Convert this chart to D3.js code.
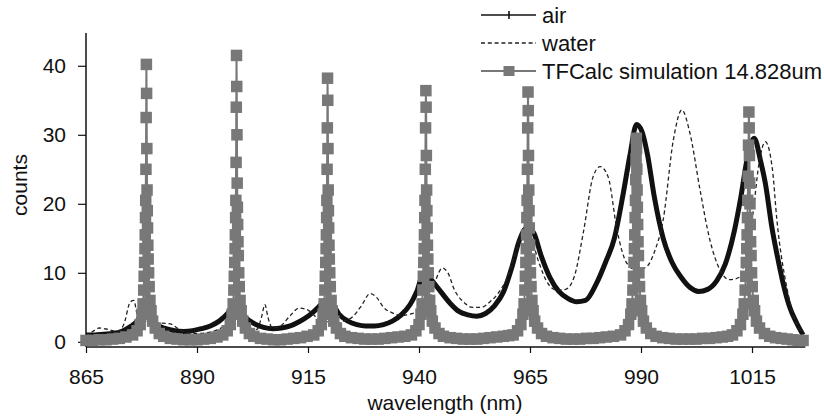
<!DOCTYPE html>
<html><head><meta charset="utf-8">
<script src="https://cdn.jsdelivr.net/npm/d3@7"></script>
<style>body{margin:0;background:#fff}svg{display:block}text{font-family:"Liberation Sans",Arial,sans-serif;fill:#111}</style>
</head><body>
<svg id="c" width="824" height="419"></svg>
<script>
const xTicks = [865, 890, 915, 940, 965, 990, 1015];
const yTicks = [0, 10, 20, 30, 40];
const seriesNames = ["air", "water", "TFCalc simulation 14.828um"];
const xLabel = "wavelength (nm)";
const yLabel = "counts";

const airData = [[865,1.0],[867,1.0],[869,1.1],[871,1.2],[873,1.5],[875,2.2],[876.5,3.0],[877.5,4.0],[878.5,4.5],[879.5,3.8],[881,2.5],[883,1.9],[885,1.6],[887,1.5],[889,1.6],[891,1.9],[893,2.3],[895,3.0],[897,4.2],[898.5,5.5],[899.5,5.0],[901,3.5],[903,2.6],[905,2.1],[907,1.9],[909,2.0],[911,2.3],[913,2.9],[915,3.7],[917,4.8],[919,6.0],[920.5,5.5],[922,4.0],[924,3.0],[926,2.5],[928,2.3],[930,2.3],[932,2.5],[934,3.0],[936,3.9],[938,5.4],[939.5,7.3],[941,9.8],[942,9.5],[944,8.0],[947,5.6],[949,4.4],[951,3.9],[953,3.7],[955,4.1],[957,5.2],[959,7.2],[961,11.0],[962.5,14.5],[964.3,16.5],[965.8,15.8],[967.5,12.5],[969.5,9.3],[971.5,7.3],[973.5,6.3],[975.5,5.8],[977.5,6.0],[980,8.5],[982,11.5],[984,15.0],[986,21.5],[987.5,27.0],[989,31.5],[990.2,30.5],[991.5,27.0],[993,21.0],[995,15.0],[997,11.5],[999,9.4],[1001,7.9],[1003,7.3],[1005,7.6],[1007,8.8],[1009,11.3],[1011,16.0],[1012.5,21.0],[1014,26.8],[1015.5,29.5],[1017,26.0],[1018,23.0],[1019.5,16.5],[1021,11.5],[1022,8.5],[1023.5,5.0],[1025,2.8],[1026.5,1.0]];

const waterData = [[865,0.8],[866.5,1.5],[868,2.0],[870,1.8],[872,1.5],[873.5,2.5],[875,5.8],[875.8,6.0],[876.5,4.0],[877.5,3.0],[879,3.0],[880.5,2.5],[882,2.7],[884,2.6],[886,1.8],[888,1.3],[890,1.2],[892,1.3],[894,1.6],[896,2.2],[898,3.0],[900,3.0],[902,2.0],[903.5,1.8],[904.5,3.5],[905.3,5.4],[906,3.5],[907,2.0],[909,2.4],[911,3.8],[913,4.9],[915,4.6],[917,3.5],[919,3.0],[921,2.5],[923,3.0],[925,3.6],[927,5.2],[929,7.0],[930.5,6.4],[932,5.0],[934,4.2],[936,3.8],[938,4.0],[940,4.5],[942,5.5],[943.5,8.5],[945.3,10.7],[946.5,10.0],[948,7.5],[950,5.8],[952,5.0],[954,5.0],[956,5.8],[958,7.2],[960,9.5],[962,13.5],[963.5,16.3],[965,15.5],[967,11.5],[969,8.5],[971,7.5],[973,7.6],[975,9.5],[977,15.8],[979.2,23.9],[980.8,25.4],[982.6,23.9],[984.6,16.2],[986.8,11.4],[989,10.4],[991.3,10.9],[993,13.0],[995,17.7],[997.3,29.3],[999.2,33.6],[1001,30.3],[1003.3,22.0],[1005.5,14.8],[1007.8,10.4],[1010,9.0],[1012.3,9.4],[1013.4,11.9],[1015.2,18.5],[1016.5,25.5],[1018,29.0],[1019.6,25.0],[1020.6,17.7],[1022.8,8.0],[1024.7,3.2],[1026.5,1.2]];

const simData = [
[865,0.2],[866.5,0.2],[868,0.3],[869.5,0.3],[871,0.4],[872.5,0.5],[874,0.7],
[875.5,1.0],[876.5,1.6],[877.2,2.5],[877.6,4],[877.85,5.5],[878.0,7.5],[878.1,9.5],[878.2,11.5],[878.28,13.5],[878.34,15.5],[878.4,18],[878.45,20.5],[878.5,25],[878.55,32.5],[878.6,40.2],
[878.65,36],[878.7,28],[878.75,22],[878.8,19],[878.86,16.5],[878.93,14],[879.0,12],[879.1,10],[879.22,8],[879.4,6],[879.65,4.5],[880.0,3],[880.6,2],[881.5,1.2],[882.5,0.8],
[884,0.5],[885.5,0.4],[887,0.3],[888.5,0.3],[890,0.3],[891.5,0.4],[893,0.5],[894.5,0.7],
[895.8,1.0],[896.8,1.6],[897.5,2.5],[897.9,4],[898.15,5.5],[898.3,7.5],[898.4,9.5],[898.5,11.5],[898.58,13.5],[898.64,15.5],[898.7,18],[898.75,20.5],[898.8,26],[898.85,34],[898.9,41.5],
[898.95,37],[899.0,30],[899.05,23],[899.1,19.5],[899.16,17],[899.23,14.5],[899.3,12.5],[899.4,10],[899.52,8],[899.7,6],[899.95,4.5],[900.3,3],[900.9,2],[901.8,1.2],[902.8,0.8],
[904.3,0.5],[905.8,0.4],[907.3,0.3],[908.8,0.3],[910.3,0.4],[911.8,0.5],[913.3,0.6],[914.8,0.8],
[916.3,1.0],[917.3,1.6],[918.0,2.5],[918.4,4],[918.65,5.5],[918.8,7.5],[918.9,9.5],[919.0,11.5],[919.08,13.5],[919.14,15.5],[919.2,18],[919.25,20.5],[919.3,25],[919.35,31],[919.4,38.2],
[919.45,35],[919.5,28],[919.55,22],[919.6,19],[919.66,16.5],[919.73,14],[919.8,12],[919.9,10],[920.02,8],[920.2,6],[920.45,4.5],[920.8,3],[921.4,2],[922.3,1.2],[923.3,0.8],
[924.8,0.6],[926.3,0.5],[927.8,0.4],[929.3,0.4],[930.8,0.4],[932.3,0.5],[933.8,0.6],[935.3,0.7],[936.8,0.8],
[938.3,1.0],[939.3,1.6],[940.0,2.5],[940.45,4],[940.7,5.5],[940.87,7.5],[940.98,9.5],[941.08,11.5],[941.16,13.5],[941.23,15.5],[941.29,18],[941.35,20.5],[941.42,25],[941.48,31],[941.55,36.4],
[941.6,34],[941.66,27],[941.72,22],[941.77,19],[941.83,16.5],[941.9,14],[941.98,12],[942.08,10],[942.2,8],[942.4,6],[942.65,4.5],[943.0,3],[943.6,2],[944.5,1.2],[945.5,0.8],
[947,0.6],[948.5,0.5],[950,0.4],[951.5,0.4],[953,0.4],[954.5,0.5],[956,0.6],[957.5,0.7],[959,0.8],[960.2,0.9],
[961.2,1.0],[962.2,1.6],[962.95,2.5],[963.4,4],[963.67,5.5],[963.85,7.5],[963.97,9.5],[964.07,11.5],[964.16,13.5],[964.23,15.5],[964.29,18],[964.35,20.5],[964.42,25],[964.48,31],[964.55,36.2],
[964.6,33.5],[964.66,27],[964.72,22],[964.78,19],[964.84,16.5],[964.91,14],[964.99,12],[965.1,10],[965.23,8],[965.43,6],[965.7,4.5],[966.05,3],[966.7,2],[967.6,1.2],[968.7,0.8],
[970.2,0.6],[971.7,0.5],[973.2,0.4],[974.7,0.4],[976.2,0.4],[977.7,0.5],[979.2,0.5],[980.7,0.6],[982.2,0.7],[983.8,0.8],
[985.4,1.0],[986.4,1.6],[987.2,2.5],[987.7,4],[987.98,5.5],[988.17,7.5],[988.3,9.5],[988.42,11.5],[988.52,13.5],[988.6,15.5],[988.68,18],[988.75,20.5],[988.82,23.5],[988.88,26.5],[988.95,29.5],
[989.0,28],[989.06,25],[989.12,22],[989.18,19.5],[989.25,17],[989.33,14.5],[989.42,12.5],[989.53,10],[989.67,8],[989.88,6],[990.15,4.5],[990.55,3],[991.2,2],[992.2,1.2],[993.4,0.8],
[994.9,0.6],[996.4,0.5],[997.9,0.4],[999.4,0.4],[1000.9,0.4],[1002.4,0.4],[1003.9,0.5],[1005.4,0.5],[1006.9,0.6],[1008.3,0.7],[1009.5,0.8],
[1010.6,1.0],[1011.6,1.6],[1012.4,2.5],[1012.95,4],[1013.25,5.5],[1013.46,7.5],[1013.6,9.5],[1013.72,11.5],[1013.82,13.5],[1013.9,15.5],[1013.98,18],[1014.05,20.5],[1014.13,24],[1014.22,28.5],[1014.3,33.3],
[1014.36,31],[1014.42,27],[1014.48,23],[1014.54,20],[1014.61,17],[1014.69,14.5],[1014.79,12.5],[1014.9,10],[1015.05,8],[1015.28,6],[1015.58,4.5],[1016.0,3],[1016.7,2],[1017.8,1.2],[1019.0,0.8],
[1020.3,0.6],[1021.6,0.5],[1022.9,0.4],[1024.2,0.3],[1025.4,0.2],[1026.5,0.2]];

const svg = d3.select("#c");
const x = d3.scaleLinear().domain([865, 1015]).range([86, 752]);
const y = d3.scaleLinear().domain([-0.75, 44.75]).range([347, 33]);
const gray = "#787878";
const fontFam = "Liberation Sans, Arial, sans-serif";

// axes
const yAxis = d3.axisLeft(y).tickValues(yTicks).tickSize(8).tickPadding(12).tickFormat(d3.format("d"));
const gy = svg.append("g").attr("transform", "translate(86,0)").call(yAxis);
gy.select(".domain").attr("d", `M0,${y(44.75)}V${y(-0.75)}`).attr("stroke", "#111").attr("stroke-width", 1.5);
gy.selectAll(".tick line").attr("stroke", "#111").attr("stroke-width", 1.2);
gy.selectAll(".tick text").attr("font-size", 21).attr("fill", "#111").style("font-family", fontFam);

const xAxis = d3.axisBottom(x).tickValues(xTicks).tickSize(6).tickPadding(16).tickFormat(d3.format("d"));
const gx = svg.append("g").attr("transform", `translate(0,${y(-0.75)})`).call(xAxis);
gx.select(".domain").attr("d", `M${x(865)},0H${x(1027)}`).attr("stroke", "#111").attr("stroke-width", 1.5);
gx.selectAll(".tick line").attr("stroke", "#111").attr("stroke-width", 1.2);
gx.selectAll(".tick text").attr("font-size", 21).attr("fill", "#111").style("font-family", fontFam);

svg.append("text").attr("x", 445).attr("y", 410).attr("text-anchor", "middle").attr("font-size", 21).text(xLabel);
svg.append("text").attr("transform", "translate(27,185) rotate(-90)").attr("text-anchor", "middle").attr("font-size", 21).text(yLabel);

const line = d3.line().x(d => x(d[0])).y(d => y(d[1])).curve(d3.curveMonotoneX);
const lineLin = d3.line().x(d => x(d[0])).y(d => y(d[1]));

// air
svg.append("path").attr("d", line(airData)).attr("fill", "none").attr("stroke", "#111").attr("stroke-width", 5).attr("stroke-linejoin", "round");
// water
svg.append("path").attr("d", line(waterData)).attr("fill", "none").attr("stroke", "#222").attr("stroke-width", 1.3).attr("stroke-dasharray", "4,2.8");
// simulation
svg.append("path").attr("d", lineLin(simData)).attr("fill", "none").attr("stroke", gray).attr("stroke-width", 2);
const ms = 11.5;
svg.append("g").selectAll("rect").data(simData).join("rect")
  .attr("x", d => x(d[0]) - ms / 2).attr("y", d => y(d[1]) - ms / 2)
  .attr("width", ms).attr("height", ms).attr("fill", gray);

// legend
const lg = svg.append("g");
const ly = [15, 43, 71];
lg.append("line").attr("x1", 481).attr("x2", 536).attr("y1", ly[0]).attr("y2", ly[0]).attr("stroke", "#111").attr("stroke-width", 1.6);
lg.append("line").attr("x1", 509).attr("x2", 509).attr("y1", ly[0] - 4).attr("y2", ly[0] + 4).attr("stroke", "#111").attr("stroke-width", 1.6);
lg.append("line").attr("x1", 481).attr("x2", 536).attr("y1", ly[1]).attr("y2", ly[1]).attr("stroke", "#222").attr("stroke-width", 1.3).attr("stroke-dasharray", "4,2.8");
lg.append("line").attr("x1", 481).attr("x2", 536).attr("y1", ly[2]).attr("y2", ly[2]).attr("stroke", gray).attr("stroke-width", 2);
lg.append("rect").attr("x", 509 - 5.5).attr("y", ly[2] - 5).attr("width", 11).attr("height", 10).attr("fill", gray);
seriesNames.forEach((n, i) => {
  lg.append("text").attr("x", 542).attr("y", ly[i] + 7.5).attr("font-size", 22).text(n);
});
</script>
</body></html>
